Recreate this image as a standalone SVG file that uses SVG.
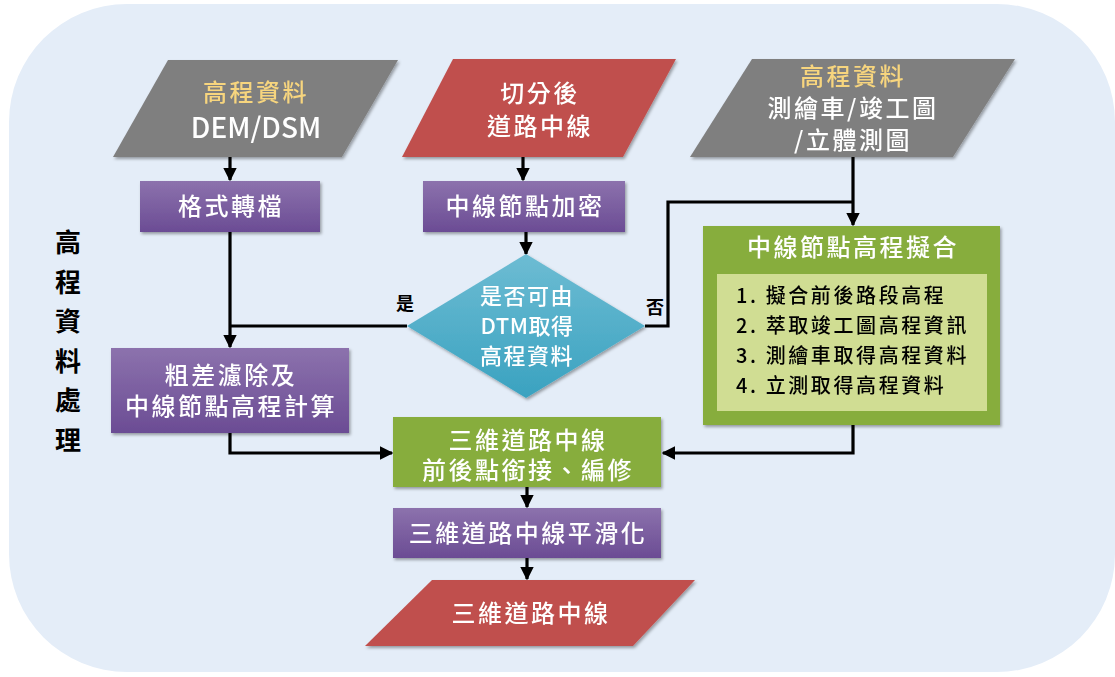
<svg xmlns="http://www.w3.org/2000/svg" width="1115" height="677" viewBox="0 0 1115 677">
<defs>
<linearGradient id="gPurple" x1="0" y1="0" x2="0" y2="1"><stop offset="0" stop-color="#8c72ad"/><stop offset="1" stop-color="#6b4c94"/></linearGradient>
<linearGradient id="gTeal" x1="0" y1="0" x2="0" y2="1"><stop offset="0" stop-color="#6dbcd3"/><stop offset="1" stop-color="#3aa2c0"/></linearGradient>
<filter id="sh" x="-10%" y="-10%" width="125%" height="130%"><feDropShadow dx="1.5" dy="2" stdDeviation="1.5" flood-color="#000" flood-opacity="0.35"/></filter>
<marker id="ah" viewBox="0 0 10 10" refX="9" refY="5" markerWidth="4.2" markerHeight="4.2" markerUnits="strokeWidth" orient="auto"><path d="M0,0 L10,5 L0,10 z" fill="#000"/></marker>
</defs>
<style>
.t{font-family:"Noto Sans CJK TC","Noto Sans",sans-serif;font-size:24px;font-weight:500;fill:#fff;text-anchor:middle;letter-spacing:2.5px}
.y{fill:#f7d57e}
.d{font-size:22px;letter-spacing:1.5px}
.lat{letter-spacing:0}
.k{font-family:"Noto Sans CJK TC","Noto Sans",sans-serif;fill:#000;font-weight:bold;text-anchor:middle}
.li{font-family:"Noto Sans CJK TC","Noto Sans",sans-serif;font-size:20px;font-weight:500;fill:#000;letter-spacing:2.6px}
.c{fill:none;stroke:#000;stroke-width:3.2}
</style>
<rect x="0" y="0" width="1115" height="677" fill="#fff"/>
<rect x="9" y="4" width="1106" height="668" rx="118" ry="118" fill="#e4edf8"/>
<g id="label-side" class="k" style="font-size:26px">
<text x="68" y="252">高</text><text x="68" y="292">程</text><text x="68" y="331">資</text><text x="68" y="371">料</text><text x="68" y="410">處</text><text x="68" y="450">理</text>
</g>
<g id="connectors">
<line class="c" x1="230" y1="157" x2="230" y2="180" marker-end="url(#ah)"/>
<line class="c" x1="523" y1="157" x2="523" y2="180" marker-end="url(#ah)"/>
<line class="c" x1="526" y1="232" x2="526" y2="254" marker-end="url(#ah)"/>
<line class="c" x1="230" y1="232" x2="230" y2="347" marker-end="url(#ah)"/>
<polyline class="c" points="407,326 230,326"/>
<polyline class="c" points="645,326 668,326 668,202 853,202"/>
<line class="c" x1="853" y1="157" x2="853" y2="225" marker-end="url(#ah)"/>
<polyline class="c" points="230,433 230,453 392,453" marker-end="url(#ah)"/>
<polyline class="c" points="853,425 853,453 663,453" marker-end="url(#ah)"/>
<line class="c" x1="527" y1="487" x2="527" y2="507" marker-end="url(#ah)"/>
<line class="c" x1="527" y1="558" x2="527" y2="579" marker-end="url(#ah)"/>
<text class="k" x="405" y="310" style="font-size:18px">是</text>
<text class="k" x="655" y="314" style="font-size:18px">否</text>
</g>
<g id="n-dem" filter="url(#sh)">
<polygon points="168,60 398,60 342,157 113,157" fill="#7f7f7f"/>
<text class="t y" x="256" y="101">高程資料</text>
<text class="t lat" x="256" y="138" style="font-size:28px">DEM/DSM</text>
</g>
<g id="n-cut" filter="url(#sh)">
<polygon points="453,59 676,59 623,157 402,157" fill="#c0504d"/>
<text class="t" x="540" y="102">切分後</text>
<text class="t" x="540" y="135">道路中線</text>
</g>
<g id="n-survey" filter="url(#sh)">
<polygon points="752,59 1015,59 953,157 690,157" fill="#7f7f7f"/>
<text class="t y" x="853" y="85">高程資料</text>
<text class="t" x="853" y="117">測繪車/竣工圖</text>
<text class="t" x="853" y="149">/立體測圖</text>
</g>
<g id="n-format" filter="url(#sh)">
<rect x="140" y="181" width="180" height="51" fill="url(#gPurple)"/>
<text class="t" x="231" y="215">格式轉檔</text>
</g>
<g id="n-densify" filter="url(#sh)">
<rect x="423" y="181" width="202" height="51" fill="url(#gPurple)"/>
<text class="t" x="525" y="215">中線節點加密</text>
</g>
<g id="n-decision" filter="url(#sh)">
<polygon points="526,254 645,326 526,398 407,326" fill="url(#gTeal)"/>
<text class="t d" x="527" y="304">是否可由</text>
<text class="t d" x="527" y="334" style="letter-spacing:0.5px">DTM取得</text>
<text class="t d" x="527" y="364">高程資料</text>
</g>
<g id="n-fit" filter="url(#sh)">
<rect x="703" y="226" width="297" height="199" fill="#87ad3e"/>
<text class="t" x="853" y="256">中線節點高程擬合</text>
<rect x="717" y="274" width="270" height="137" fill="#d0dd93"/>
<text class="li" x="736" y="303">1. 擬合前後路段高程</text>
<text class="li" x="736" y="333">2. 萃取竣工圖高程資訊</text>
<text class="li" x="736" y="363">3. 測繪車取得高程資料</text>
<text class="li" x="736" y="393">4. 立測取得高程資料</text>
</g>
<g id="n-gross" filter="url(#sh)">
<rect x="111" y="348" width="238" height="85" fill="url(#gPurple)"/>
<text class="t" x="231" y="384">粗差濾除及</text>
<text class="t" x="231" y="415">中線節點高程計算</text>
</g>
<g id="n-join" filter="url(#sh)">
<rect x="393" y="417" width="268" height="70" fill="#87ad3e"/>
<text class="t" x="528" y="449">三維道路中線</text>
<text class="t" x="528" y="479">前後點銜接、編修</text>
</g>
<g id="n-smooth" filter="url(#sh)">
<rect x="393" y="508" width="268" height="50" fill="url(#gPurple)"/>
<text class="t" x="528" y="542">三維道路中線平滑化</text>
</g>
<g id="n-out" filter="url(#sh)">
<polygon points="432,580 695,580 633,646 365,646" fill="#c0504d"/>
<text class="t" x="531" y="622">三維道路中線</text>
</g>
</svg>
